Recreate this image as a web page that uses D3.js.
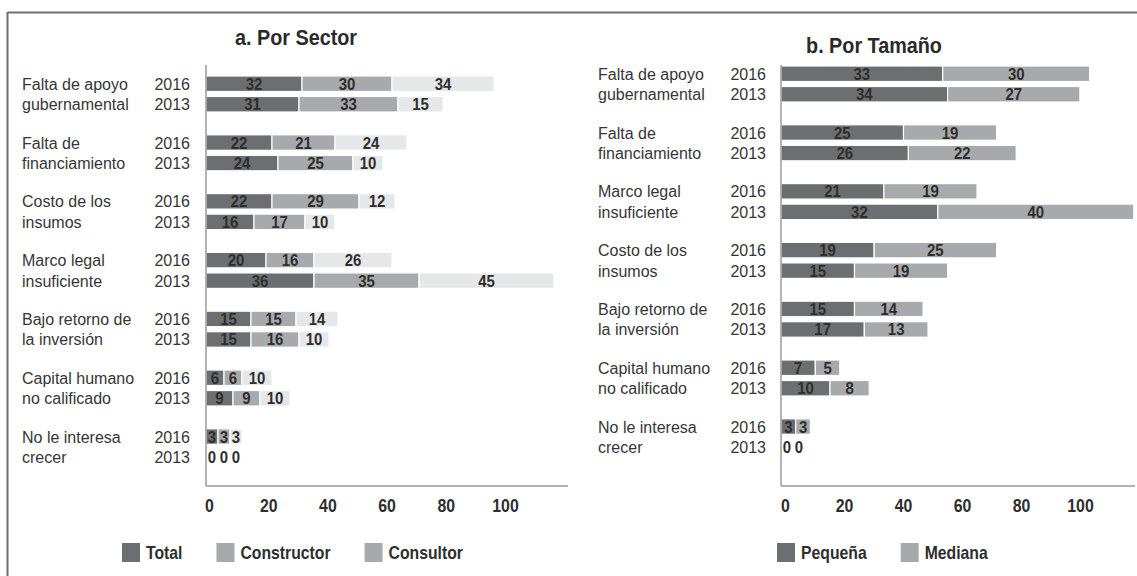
<!DOCTYPE html>
<html>
<head>
<meta charset="utf-8">
<script src="https://cdn.jsdelivr.net/npm/d3@7"></script>
<style>
  body { margin: 0; background: #fff; }
  svg { display: block; font-family: "Liberation Sans", Arial, sans-serif; }
</style>
</head>
<body>
<svg id="chart" width="1137" height="576"></svg>
<script>
// data
const years = ["2016", "2013"];

const sectorCats = [
  ["Falta de apoyo", "gubernamental"],
  ["Falta de", "financiamiento"],
  ["Costo de los", "insumos"],
  ["Marco legal", "insuficiente"],
  ["Bajo retorno de", "la inversión"],
  ["Capital humano", "no calificado"],
  ["No le interesa", "crecer"]
];
const sectorSeries = ["Total", "Constructor", "Consultor"];
const sector2016 = [[32, 30, 34], [22, 21, 24], [22, 29, 12], [20, 16, 26], [15, 15, 14], [6, 6, 10], [3, 3, 3]];
const sector2013 = [[31, 33, 15], [24, 25, 10], [16, 17, 10], [36, 35, 45], [15, 16, 10], [9, 9, 10], [0, 0, 0]];

const sizeCats = [
  ["Falta de apoyo", "gubernamental"],
  ["Falta de", "financiamiento"],
  ["Marco legal", "insuficiente"],
  ["Costo de los", "insumos"],
  ["Bajo retorno de", "la inversión"],
  ["Capital humano", "no calificado"],
  ["No le interesa", "crecer"]
];
const sizeSeries = ["Pequeña", "Mediana"];
const size2016 = [[33, 30], [25, 19], [21, 19], [19, 25], [15, 14], [7, 5], [3, 3]];
const size2013 = [[34, 27], [26, 22], [32, 40], [15, 19], [17, 13], [10, 8], [0, 0]];

const tickValues = [0, 20, 40, 60, 80, 100];

const svg = d3.select("#chart");
const textCol = "#2e2e2e";

// no narrow font installed, so squeeze bold text horizontally
function narrow(sel, x, y, sx) {
  return sel.attr("x", 0).attr("y", 0)
    .attr("transform", `translate(${x},${y}) scale(${sx},1)`);
}

// outer frame
svg.append("line").attr("x1", 7.5).attr("x2", 1137).attr("y1", 12.5).attr("y2", 12.5)
  .attr("stroke", "#6f6f6f").attr("stroke-width", 2);
svg.append("line").attr("x1", 7.5).attr("x2", 7.5).attr("y1", 12).attr("y2", 576)
  .attr("stroke", "#6f6f6f").attr("stroke-width", 2);

function drawPanel(p) {
  const g = svg.append("g");
  const n = p.cats.length;

  const groupY = d3.scaleBand()
    .domain(d3.range(n))
    .range([p.top, p.top + n * 58.8]);
  const yearY = d3.scaleBand()
    .domain(years)
    .range([0, 36])
    .paddingInner(0.244);

  const xBar = d3.scaleLinear().domain([0, 100]).range([p.axisX, p.axisX + 100 * p.pxPerUnit]);
  const xTick = d3.scaleLinear().domain([0, 100]).range(p.tickRange);
  const color = d3.scaleOrdinal().domain(p.series).range(p.colors);

  // title
  narrow(g.append("text"), p.titleX, p.titleY, 0.9)
    .attr("text-anchor", "middle")
    .attr("font-size", 22).attr("font-weight", "bold").attr("fill", "#2a2a2a")
    .text(p.title);

  // rows
  p.cats.forEach((cat, i) => {
    const rows = [p.v2016[i], p.v2013[i]];
    years.forEach((yr, k) => {
      const y0 = groupY(i) + yearY(yr);
      const h = yearY.bandwidth();
      const cy = y0 + h / 2;

      g.append("text")
        .attr("x", p.catX).attr("y", cy + 6)
        .attr("font-size", 16).attr("fill", "#363636")
        .text(cat[k]);
      g.append("text")
        .attr("x", p.yearX).attr("y", cy + 6)
        .attr("text-anchor", "end")
        .attr("font-size", 16).attr("fill", "#363636")
        .text(yr);

      const vals = rows[k];
      let acc = 0;
      let slot = p.axisX;
      vals.forEach((v, j) => {
        const xa = xBar(acc), xb = xBar(acc + v);
        // tiny segments get a minimum slot so the label fits (as in the original)
        const w = Math.max(xb - xa, 12);
        const sx = Math.max(slot, xa);
        if (v > 0) {
          g.append("rect")
            .attr("x", sx).attr("y", y0)
            .attr("width", w).attr("height", h)
            .attr("fill", color(p.series[j]))
            .attr("stroke", "#fff").attr("stroke-width", 1.2);
        }
        narrow(g.append("text"), sx + w / 2, cy + 6, 0.88)
          .attr("text-anchor", "middle")
          .attr("font-size", 17).attr("font-weight", "bold")
          .attr("fill", textCol)
          .text(v);
        slot = sx + w;
        acc += v;
      });
    });
  });

  // axis lines
  g.append("line")
    .attr("x1", p.axisX).attr("x2", p.axisX)
    .attr("y1", 65).attr("y2", 486)
    .attr("stroke", "#9a9a9a").attr("stroke-width", 1.5);
  g.append("line")
    .attr("x1", p.axisX).attr("x2", p.axisEnd)
    .attr("y1", 486).attr("y2", 486)
    .attr("stroke", "#9a9a9a").attr("stroke-width", 1.5);

  const ax = g.append("g")
    .attr("transform", "translate(0,486)")
    .call(d3.axisBottom(xTick).tickValues(tickValues).tickSize(0).tickPadding(13));
  ax.select(".domain").remove();
  ax.selectAll("text")
    .attr("font-family", null)
    .attr("transform", "scale(0.88,1)")
    .attr("font-size", 18).attr("font-weight", "bold")
    .attr("fill", textCol);

  // legend
  let lx = p.legendX;
  p.series.forEach((s, j) => {
    g.append("rect")
      .attr("x", lx).attr("y", 543)
      .attr("width", 18).attr("height", 19)
      .attr("fill", p.legendColors[j]);
    const t = narrow(g.append("text"), lx + 24, 559, 0.83)
      .attr("font-size", 19).attr("font-weight", "bold")
      .attr("fill", textCol)
      .text(s);
    lx += 24 + t.node().getComputedTextLength() * 0.83 + 34;
  });
}

drawPanel({
  title: "a. Por  Sector", titleX: 296, titleY: 45,
  cats: sectorCats, series: sectorSeries, v2016: sector2016, v2013: sector2013,
  colors: ["#6d6e71", "#a7a9ac", "#e6e7e8"],
  legendColors: ["#6d6e71", "#a7a9ac", "#a7a9ac"],
  top: 76, catX: 22, yearX: 190,
  axisX: 206, axisEnd: 568, pxPerUnit: 3.0, tickRange: [209, 505],
  legendX: 122
});

drawPanel({
  title: "b. Por  Tamaño", titleX: 874, titleY: 53,
  cats: sizeCats, series: sizeSeries, v2016: size2016, v2013: size2013,
  colors: ["#6d6e71", "#a7a9ac"],
  legendColors: ["#6d6e71", "#a7a9ac"],
  top: 66, catX: 598, yearX: 766,
  axisX: 781, axisEnd: 1135, pxPerUnit: 4.9, tickRange: [785, 1080],
  legendX: 777
});
</script>
</body>
</html>
